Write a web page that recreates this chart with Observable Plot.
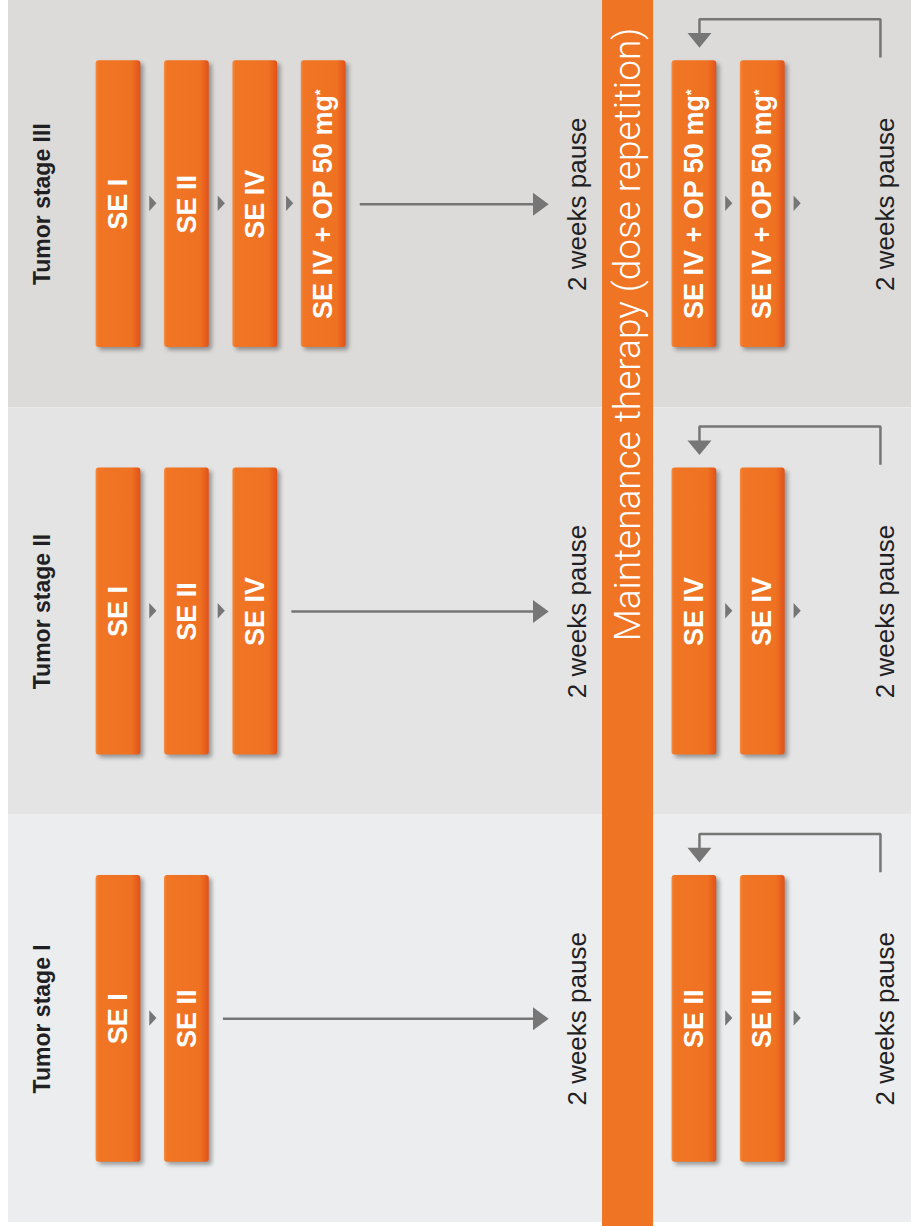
<!DOCTYPE html>
<html><head><meta charset="utf-8">
<script src="https://cdn.jsdelivr.net/npm/d3@7"></script>
<script src="https://cdn.jsdelivr.net/npm/@observablehq/plot@0.6"></script>
<style>html,body{margin:0;padding:0;background:#fff;} svg{display:block;}</style>
</head><body><div id="chart"></div>
<script>
// ---- content ----
const stages = ["Tumor stage III", "Tumor stage II", "Tumor stage I"];
const inductionSteps = [
  ["SE I", "SE II", "SE IV", "SE IV + OP 50 mg*"],
  ["SE I", "SE II", "SE IV"],
  ["SE I", "SE II"]
];
const maintenanceSteps = [
  ["SE IV + OP 50 mg*", "SE IV + OP 50 mg*"],
  ["SE IV", "SE IV"],
  ["SE II", "SE II"]
];
const pauseLabel = "2 weeks pause";
const maintenanceTitle = "Maintenance therapy (dose repetition)";
const bandColors = ["#dcdbda", "#e4e4e4", "#ecedee"];

// ---- layout, in column / row units ----
const L = {
  labelCol: -0.11, firstBoxCol: 1, pauseCol: 7.71, barCol: 8.45, maintCol: 9.42,
  pause2Col: 12.21, loopCol: 12.14, leftEdge: -0.608, rightEdge: 12.6,
  boxHalfW: 0.327, boxHalfH: 0.352, barHalfW: 0.373, titleRow: 0.32
};
const FONT = "'Liberation Sans', Arial, sans-serif";
const GRAY = "#767676";

const boxes = [];
const smallTris = [];
const arrows = [];
const heads = [];
const loops = [];
const pauses = [];
stages.forEach((s, k) => {
  const ind = inductionSteps[k];
  ind.forEach((t, i) => {
    boxes.push({row: k, col: L.firstBoxCol + i, text: t});
    if (i < ind.length - 1) smallTris.push({row: k, col: L.firstBoxCol + i + 0.5});
  });
  maintenanceSteps[k].forEach((t, j) => {
    boxes.push({row: k, col: L.maintCol + j, text: t});
    smallTris.push({row: k, col: L.maintCol + j + 0.5});
  });
  const lastCol = L.firstBoxCol + ind.length - 1;
  arrows.push({row: k, from: lastCol + L.boxHalfW + 0.2, to: L.pauseCol - 0.64});
  heads.push({id: "a" + k, pts: [[L.pauseCol - 0.65, k - 0.0282], [L.pauseCol - 0.42, k], [L.pauseCol - 0.65, k + 0.0282]]});
  const lx = L.maintCol + 0.074;
  loops.push({id: "l" + k, pts: [[L.loopCol, k - 0.36], [L.loopCol, k - 0.454], [lx, k - 0.454], [lx, k - 0.41]]});
  heads.push({id: "h" + k, pts: [[lx - 0.175, k - 0.42], [lx + 0.175, k - 0.42], [lx, k - 0.384]]});
  pauses.push({row: k, col: L.pauseCol}, {row: k, col: L.pause2Col});
});
smallTris.forEach((t, i) => heads.push({id: "t" + i, pts: [[t.col - 0.05, t.row - 0.021], [t.col + 0.055, t.row - 0.002], [t.col - 0.05, t.row + 0.017]]}));

const headPts = heads.flatMap(h => h.pts.map(([x, y]) => ({id: h.id, x, y})));
const loopPts = loops.flatMap(h => h.pts.map(([x, y]) => ({id: h.id, x, y})));

const svg = Plot.plot({
  width: 911, height: 1226, margin: 0,
  x: {domain: [-0.725, 12.594], range: [0, 911], axis: null},
  y: {domain: [-0.5, 2.5], range: [0, 1222], axis: null},
  color: {type: "identity"},
  style: {background: "transparent", overflow: "visible"},
  marks: [
    Plot.rect(stages, {x1: () => L.leftEdge, x2: () => L.rightEdge, y1: (d, k) => k - 0.5, y2: (d, k) => k + 0.5, fill: (d, k) => bandColors[k]}),
    Plot.rect([maintenanceTitle], {x1: () => L.barCol - L.barHalfW, x2: () => L.barCol + L.barHalfW, y1: () => -0.5, y2: () => 2.52, fill: "#ef7423"}),
    Plot.text([maintenanceTitle], {x: () => L.barCol, y: () => L.titleRow, text: d => d, rotate: -90, fill: "white", fontSize: 37, fontWeight: 300, fontFamily: "Roboto, 'Open Sans', sans-serif"}),
    Plot.link(arrows, {x1: "from", x2: "to", y1: "row", y2: "row", stroke: GRAY, strokeWidth: 2.5}),
    Plot.line(loopPts, {x: "x", y: "y", z: "id", stroke: GRAY, strokeWidth: 2.5, strokeLinejoin: "miter", strokeLinecap: "butt", fill: "none"}),
    Plot.line(headPts, {x: "x", y: "y", z: "id", fill: GRAY, stroke: "none"}),
    Plot.rect(boxes, {x1: d => d.col - L.boxHalfW, x2: d => d.col + L.boxHalfW, y1: d => d.row - L.boxHalfH, y2: d => d.row + L.boxHalfH, fill: "#f07323", rx: 3, ariaLabel: () => "boxes"}),
    Plot.text(boxes, {x: "col", y: "row", text: "text", rotate: -90, fill: "white", fontSize: 27, fontWeight: "bold", fontFamily: FONT, ariaLabel: () => "boxtext"}),
    Plot.text(stages, {x: () => L.labelCol, y: (d, k) => k, text: d => d, rotate: -90, fill: "#1f1f24", fontSize: 23, fontWeight: "bold", fontFamily: FONT}),
    Plot.text(pauses, {x: "col", y: "row", text: () => pauseLabel, rotate: -90, fill: "#1f1f24", fontSize: 26, fontFamily: FONT})
  ]
});

const s = d3.select(svg);
s.insert("defs", ":first-child").html(
  '<linearGradient id="boxGrad" x1="0" y1="0" x2="1" y2="0">' +
  '<stop offset="0" stop-color="#f48a3c"/><stop offset="0.07" stop-color="#f07524"/>' +
  '<stop offset="0.8" stop-color="#ef7222"/><stop offset="1" stop-color="#e2511a"/></linearGradient>');
s.selectAll('rect[aria-label="boxes"]').attr("fill", "url(#boxGrad)")
  .style("filter", "drop-shadow(3px 3px 2px rgba(0,0,0,0.35))");
s.selectAll('text[aria-label="boxtext"]').each(function () {
  const t = this.textContent;
  if (t.endsWith("*")) {
    this.textContent = t.slice(0, -1);
    d3.select(this).append("tspan").attr("dy", "-0.5em").attr("font-size", "0.55em").text("*");
  }
});
document.getElementById("chart").appendChild(svg);
</script>
</body></html>
